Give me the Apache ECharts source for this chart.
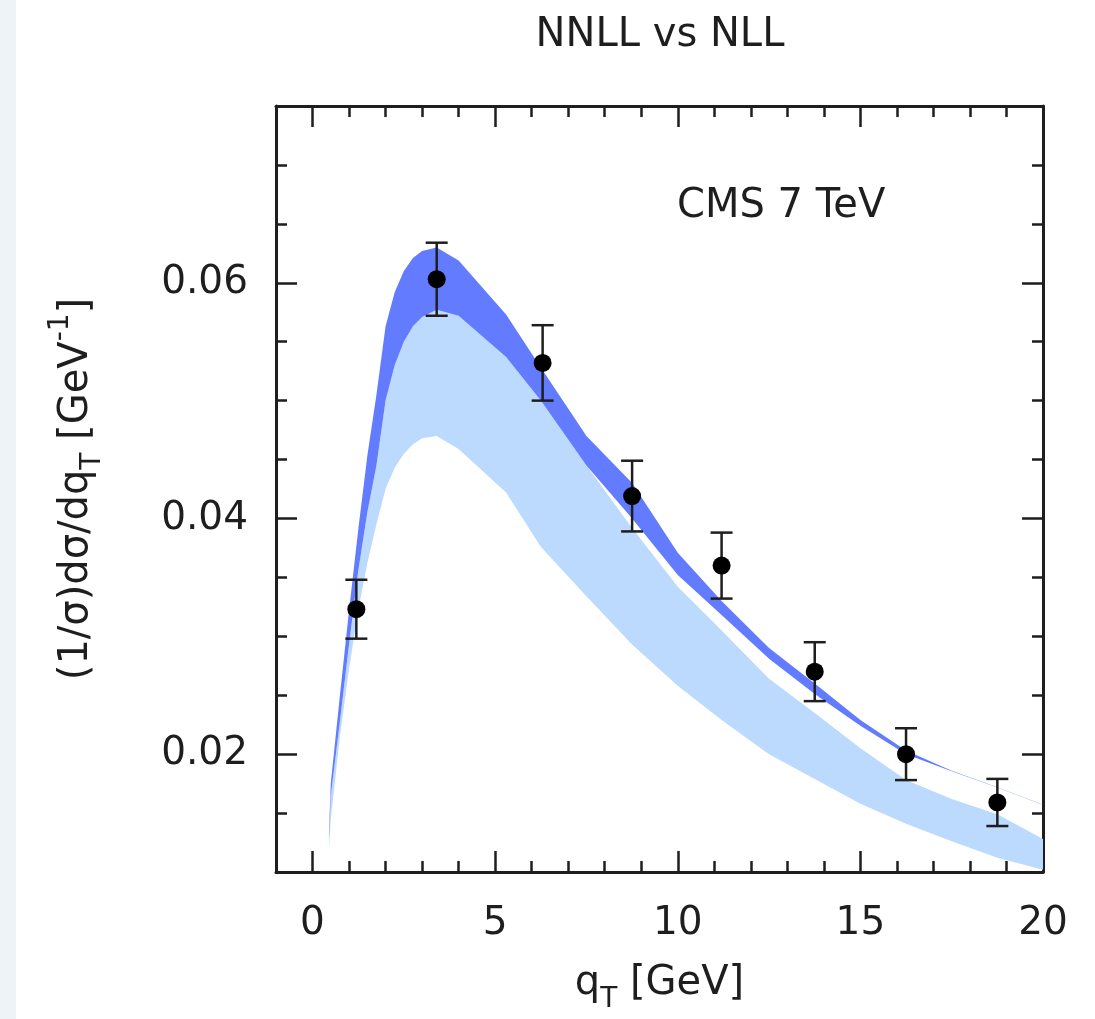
<!DOCTYPE html>
<html>
<head>
<meta charset="utf-8">
<script src="https://cdn.jsdelivr.net/npm/echarts@6/dist/echarts.min.js"></script>
<style>
  html, body { margin: 0; padding: 0; background: #fff; }
  #chart { width: 1095px; height: 1019px; }
</style>
</head>
<body>
<div id="chart"></div>
<script>
// q_T grid of the theory bands
const qGrid = [0.45, 0.5, 0.75, 1.0, 1.25, 1.5, 1.75, 2.0, 2.25, 2.5, 2.75, 3.0, 3.4, 4.0, 5.3, 6.25, 7.5, 8.75, 10, 11.2, 12.5, 13.75, 15, 16.25, 17.5, 18.75, 20];
// NNLL band (dark)
const nnllUpper = [0.0135, 0.0175, 0.025, 0.0322, 0.039, 0.0453, 0.0505, 0.0563, 0.0592, 0.061, 0.0621, 0.0627, 0.063, 0.0619, 0.0573, 0.0528, 0.047, 0.043, 0.0371, 0.033, 0.029, 0.026, 0.0229, 0.0203, 0.0186, 0.0172, 0.0157];
const nnllLower = [0.0128, 0.0165, 0.0228, 0.0293, 0.0355, 0.0405, 0.0445, 0.05, 0.053, 0.055, 0.0563, 0.0571, 0.0577, 0.0572, 0.0537, 0.05, 0.0445, 0.04, 0.0352, 0.0318, 0.0281, 0.0251, 0.0224, 0.02, 0.01855, 0.01717, 0.01568];
// NLL band (light)
const nllUpper = [0.0128, 0.0165, 0.0228, 0.0293, 0.0355, 0.0405, 0.0445, 0.05, 0.053, 0.055, 0.0563, 0.0571, 0.0577, 0.0572, 0.0537, 0.05, 0.0445, 0.0392, 0.0342, 0.0305, 0.0264, 0.0235, 0.0205, 0.0178, 0.0162, 0.0149, 0.0128];
const nllLower = [0.012, 0.0145, 0.0215, 0.0272, 0.0322, 0.0362, 0.0395, 0.0425, 0.0443, 0.0455, 0.0463, 0.0468, 0.047, 0.0459, 0.0422, 0.0376, 0.0334, 0.0293, 0.0258, 0.0229, 0.02, 0.0179, 0.0158, 0.0141, 0.0126, 0.0112, 0.0102];

// CMS 7 TeV data
const dataQ = [1.2, 3.4, 6.3, 8.75, 11.2, 13.75, 16.25, 18.75];
const dataVal = [0.0323, 0.0603, 0.0532, 0.0419, 0.036, 0.027, 0.02, 0.0159];
const dataErr = [0.0025, 0.0031, 0.0032, 0.003, 0.0028, 0.0025, 0.0022, 0.002];

// ticks
const xMajor = [0, 5, 10, 15, 20];
const xMinor = [0, 1, 2, 3, 4, 5, 6, 7, 8, 9, 10, 11, 12, 13, 14, 15, 16, 17, 18, 19];
const yMajor = [0.02, 0.04, 0.06];
const yMinor = [0.015, 0.02, 0.025, 0.03, 0.035, 0.04, 0.045, 0.05, 0.055, 0.06, 0.065, 0.07];

const FONT = '"DejaVu Sans", sans-serif';
const INK = '#1e1e1e';

const chart = echarts.init(document.getElementById('chart'), null, { renderer: 'canvas' });

// main text sits mid-line, sub hugs the bottom, sup hugs the top
const nameRich = {
  m: { fontSize: 40, fontFamily: FONT, color: INK, lineHeight: 60 },
  sub: { fontSize: 28, fontFamily: FONT, color: INK, lineHeight: 33, verticalAlign: 'bottom' },
  sup: { fontSize: 28, fontFamily: FONT, color: INK, lineHeight: 33, verticalAlign: 'top' }
};

function frameAxis(position, ticks, len, extra) {
  return Object.assign({
    type: 'value',
    position: position,
    gridIndex: 0,
    axisLine: { show: false, onZero: false },
    axisTick: { show: true, inside: true, length: len, customValues: ticks, lineStyle: { color: INK, width: 2.5 } },
    axisLabel: { show: false },
    splitLine: { show: false }
  }, extra);
}

const xBase = { min: -1, max: 20 };
const yBase = { min: 0.01, max: 0.075 };
const lineOn = { show: true, onZero: false, lineStyle: { color: INK, width: 3 } };

function bandPolygon(upper, lower, color) {
  return {
    type: 'custom',
    silent: true,
    data: [[5, 0.03]],
    encode: { x: 0, y: 1 },
    renderItem: function (params, api) {
      const pts = [];
      for (let i = 0; i < qGrid.length; i++) pts.push(api.coord([qGrid[i], upper[i]]));
      for (let i = qGrid.length - 1; i >= 0; i--) pts.push(api.coord([qGrid[i], lower[i]]));
      return { type: 'polygon', shape: { points: pts }, style: { fill: color } };
    }
  };
}

const option = {
  animation: false,
  backgroundColor: '#fff',
  grid: { left: 276, right: 52, top: 106, bottom: 146 },
  graphic: [
    { type: 'rect', shape: { x: 0, y: 0, width: 16, height: 1019 }, style: { fill: '#eef3f7' } },
    { type: 'text', x: 660, y: 36, style: { text: 'NNLL vs NLL', fontSize: 40, fontFamily: FONT, fill: INK, align: 'center', verticalAlign: 'middle' } },
    { type: 'text', x: 677, y: 207, style: { text: 'CMS 7 TeV', fontSize: 40, fontFamily: FONT, fill: INK, align: 'left', verticalAlign: 'middle' } }
  ],
  xAxis: [
    frameAxis('bottom', xMajor, 21, Object.assign({}, xBase, {
      axisLine: lineOn,
      axisLabel: { show: true, customValues: xMajor, margin: 32, fontSize: 39, fontFamily: FONT, color: INK },
      name: '{m|q}{sub|T}{m| [GeV]}',
      nameLocation: 'middle',
      nameGap: 82,
      nameTextStyle: { rich: nameRich }
    })),
    frameAxis('bottom', xMinor, 11, xBase),
    frameAxis('top', xMajor, 21, Object.assign({}, xBase, { axisLine: lineOn })),
    frameAxis('top', xMinor, 11, xBase)
  ],
  yAxis: [
    frameAxis('left', yMajor, 21, Object.assign({}, yBase, {
      axisLine: lineOn,
      axisLabel: {
        show: true, customValues: yMajor, margin: 28, fontSize: 39, fontFamily: FONT, color: INK,
        formatter: function (v) { return v.toFixed(2); }
      },
      name: '{m|(1/σ)dσ/dq}{sub|T}{m| [GeV}{sup|-1}{m|]}',
      nameLocation: 'middle',
      nameRotate: 90,
      nameGap: 169,
      nameTextStyle: { rich: nameRich }
    })),
    frameAxis('left', yMinor, 11, yBase),
    frameAxis('right', yMajor, 21, Object.assign({}, yBase, { axisLine: lineOn })),
    frameAxis('right', yMinor, 11, yBase)
  ],
  series: [
    bandPolygon(nllUpper, nllLower, '#bbdafd'),
    bandPolygon(nnllUpper, nnllLower, '#637cff'),
    {
      type: 'custom',
      name: 'errors',
      data: dataQ.map(function (q, i) { return [q, dataVal[i] - dataErr[i], dataVal[i] + dataErr[i]]; }),
      encode: { x: 0, y: [1, 2] },
      renderItem: function (params, api) {
        const q = api.value(0);
        const lo = api.coord([q, api.value(1)]);
        const hi = api.coord([q, api.value(2)]);
        const half = 11;
        const st = { stroke: INK, lineWidth: 2.5 };
        return {
          type: 'group',
          children: [
            { type: 'line', shape: { x1: lo[0], y1: lo[1], x2: hi[0], y2: hi[1] }, style: st },
            { type: 'line', shape: { x1: lo[0] - half, y1: lo[1], x2: lo[0] + half, y2: lo[1] }, style: st },
            { type: 'line', shape: { x1: hi[0] - half, y1: hi[1], x2: hi[0] + half, y2: hi[1] }, style: st }
          ]
        };
      }
    },
    {
      type: 'scatter',
      name: 'CMS',
      data: dataQ.map(function (q, i) { return [q, dataVal[i]]; }),
      symbol: 'circle',
      symbolSize: 18,
      itemStyle: { color: '#000', opacity: 1 },
      z: 5
    }
  ]
};

chart.setOption(option);
</script>
</body>
</html>
